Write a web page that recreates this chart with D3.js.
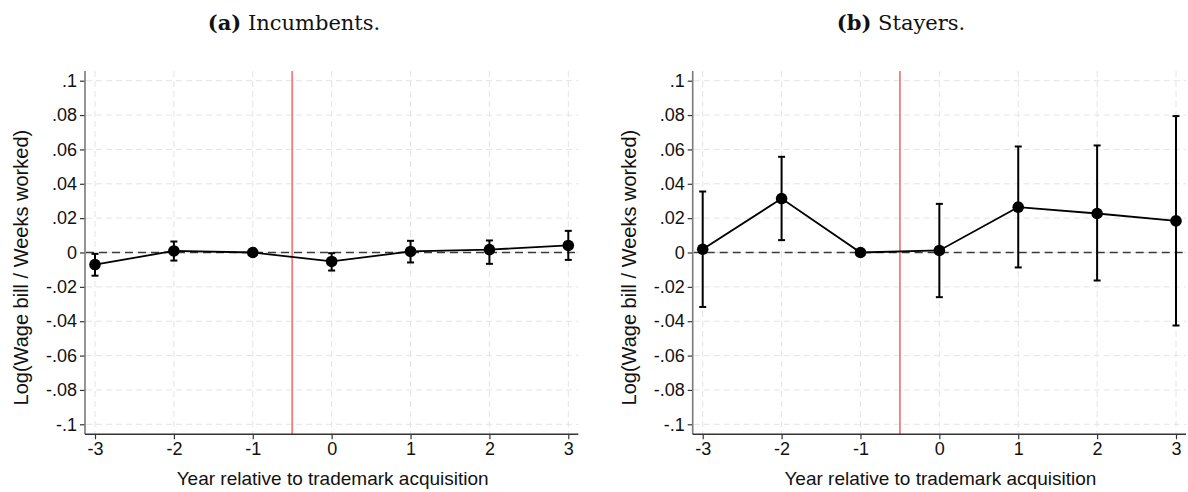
<!DOCTYPE html>
<html>
<head>
<meta charset="utf-8">
<script src="https://cdn.jsdelivr.net/npm/d3@7"></script>
<style>
  html, body { margin: 0; padding: 0; background: #fff; }
  svg { display: block; }
</style>
</head>
<body>
<svg id="chart" width="1188" height="492"></svg>
<script>
// Event-study estimates: log(wage bill / weeks worked) by year relative to trademark acquisition
const years = [-3, -2, -1, 0, 1, 2, 3];

const incumbentsCoef = [-0.0070, 0.0009, 0, -0.0052, 0.0006, 0.0017, 0.0041];
const incumbentsLo   = [-0.0135, -0.0047, 0, -0.0105, -0.0058, -0.0066, -0.0043];
const incumbentsHi   = [-0.0008, 0.0064, 0, -0.0004, 0.0068, 0.0070, 0.0126];

const stayersCoef = [0.0019, 0.0314, 0, 0.0012, 0.0264, 0.0227, 0.0184];
const stayersLo   = [-0.0317, 0.0072, 0, -0.0260, -0.0087, -0.0163, -0.0425];
const stayersHi   = [0.0355, 0.0557, 0, 0.0283, 0.0617, 0.0623, 0.0794];

const yTicks = [-0.1, -0.08, -0.06, -0.04, -0.02, 0, 0.02, 0.04, 0.06, 0.08, 0.1];
const xTicks = years;
const eventLine = -0.5;

const panelTitles = [
  { tag: "(a)", name: " Incumbents." },
  { tag: "(b)", name: " Stayers." }
];
const yTitle = "Log(Wage bill / Weeks worked)";
const xTitle = "Year relative to trademark acquisition";

// Stata-style tick labels: drop the leading zero (".08", "-.02")
const fmtY = v => {
  if (Math.abs(v) < 1e-12) return "0";
  let s = String(+v.toFixed(2));
  return s.replace(/^(-?)0\./, "$1.");
};

const svg = d3.select("#chart");
const sans = "'Liberation Sans', Arial, Helvetica, sans-serif";
const serif = "'DejaVu Serif', 'Liberation Serif', serif";

function drawPanel(opts) {
  const { axisX, rightX, titleX, title, coef, lo, hi } = opts;
  const top = 71, bottom = 434.3;
  const x = d3.scaleLinear().domain([-3, 3]).range([axisX + 10, rightX - 10]);
  const y = d3.scaleLinear().domain([-0.1, 0.1]).range([424.3, 80.7]);

  const g = svg.append("g");

  // title
  const t = g.append("text")
    .attr("x", titleX).attr("y", 30)
    .attr("text-anchor", "middle")
    .attr("font-family", serif)
    .attr("font-size", 21)
    .attr("fill", "#111");
  t.append("tspan").attr("font-weight", "bold").text(title.tag);
  t.append("tspan").text(title.name);

  // grid
  g.append("g").selectAll("line").data(yTicks).join("line")
    .attr("x1", axisX + 1).attr("x2", rightX)
    .attr("y1", d => y(d)).attr("y2", d => y(d))
    .attr("stroke", "#e4e4e4").attr("stroke-width", 1)
    .attr("stroke-dasharray", "6,4");
  g.append("g").selectAll("line").data(xTicks).join("line")
    .attr("x1", d => x(d)).attr("x2", d => x(d))
    .attr("y1", top).attr("y2", bottom)
    .attr("stroke", "#e4e4e4").attr("stroke-width", 1)
    .attr("stroke-dasharray", "6,4");

  // zero reference
  g.append("line")
    .attr("x1", axisX + 1).attr("x2", rightX)
    .attr("y1", y(0)).attr("y2", y(0))
    .attr("stroke", "#3a3a3a").attr("stroke-width", 1.7)
    .attr("stroke-dasharray", "8,5");

  // event line
  g.append("line")
    .attr("x1", x(eventLine)).attr("x2", x(eventLine))
    .attr("y1", top).attr("y2", bottom)
    .attr("stroke", "#f47c7c").attr("stroke-width", 1.8);

  // y axis
  const yAxis = d3.axisLeft(y).tickValues(yTicks).tickFormat(fmtY).tickSize(5).tickPadding(3);
  const ya = g.append("g").attr("transform", `translate(${axisX},0)`).call(yAxis);
  ya.select(".domain").remove();
  ya.append("line").attr("x1", 0).attr("x2", 0).attr("y1", top).attr("y2", bottom)
    .attr("stroke", "#7a7a7a").attr("stroke-width", 1.6);
  ya.selectAll(".tick line").attr("stroke", "#333").attr("stroke-width", 1.2);
  ya.selectAll(".tick text").attr("font-family", sans).attr("font-size", 18).attr("fill", "#111");

  // x axis
  const xAxis = d3.axisBottom(x).tickValues(xTicks).tickFormat(d3.format("d")).tickSize(5).tickPadding(3);
  const xa = g.append("g").attr("transform", `translate(0,${bottom})`).call(xAxis);
  xa.select(".domain").remove();
  xa.append("line").attr("x1", axisX).attr("x2", rightX).attr("y1", 0).attr("y2", 0)
    .attr("stroke", "#333").attr("stroke-width", 1.4);
  xa.selectAll(".tick line").attr("stroke", "#333").attr("stroke-width", 1.2);
  xa.selectAll(".tick text").attr("font-family", sans).attr("font-size", 18).attr("fill", "#111")
    .text(d => d < 0 ? "-" + Math.abs(d) : d);

  // axis titles
  g.append("text")
    .attr("x", (axisX + rightX) / 2 + 1).attr("y", 485)
    .attr("text-anchor", "middle")
    .attr("font-family", sans).attr("font-size", 19).attr("fill", "#111")
    .text(xTitle);
  g.append("text")
    .attr("transform", `translate(${axisX - 57},${(top + bottom) / 2 + 15}) rotate(-90)`)
    .attr("text-anchor", "middle")
    .attr("font-family", sans).attr("font-size", 20).attr("fill", "#111")
    .text(yTitle);

  const pts = years.map((yr, i) => ({ yr, c: coef[i], lo: lo[i], hi: hi[i] }));

  // connecting line
  g.append("path").datum(pts)
    .attr("d", d3.line().x(d => x(d.yr)).y(d => y(d.c)))
    .attr("fill", "none").attr("stroke", "#000").attr("stroke-width", 1.8);

  // confidence intervals
  const ci = g.append("g").attr("stroke", "#000").attr("stroke-width", 2);
  const bars = pts.filter(d => d.hi !== d.lo);
  ci.selectAll(".v").data(bars).join("line")
    .attr("x1", d => x(d.yr)).attr("x2", d => x(d.yr))
    .attr("y1", d => y(d.lo)).attr("y2", d => y(d.hi));
  ci.selectAll(".cl").data(bars).join("line")
    .attr("x1", d => x(d.yr) - 3.5).attr("x2", d => x(d.yr) + 3.5)
    .attr("y1", d => y(d.lo)).attr("y2", d => y(d.lo));
  ci.selectAll(".ch").data(bars).join("line")
    .attr("x1", d => x(d.yr) - 3.5).attr("x2", d => x(d.yr) + 3.5)
    .attr("y1", d => y(d.hi)).attr("y2", d => y(d.hi));

  // point estimates
  g.append("g").selectAll("circle").data(pts).join("circle")
    .attr("cx", d => x(d.yr)).attr("cy", d => y(d.c)).attr("r", 5.8)
    .attr("fill", "#000");
}

drawPanel({ axisX: 85, rightX: 578.3, titleX: 294, title: panelTitles[0],
            coef: incumbentsCoef, lo: incumbentsLo, hi: incumbentsHi });
drawPanel({ axisX: 692.7, rightX: 1186, titleX: 901, title: panelTitles[1],
            coef: stayersCoef, lo: stayersLo, hi: stayersHi });
</script>
</body>
</html>
